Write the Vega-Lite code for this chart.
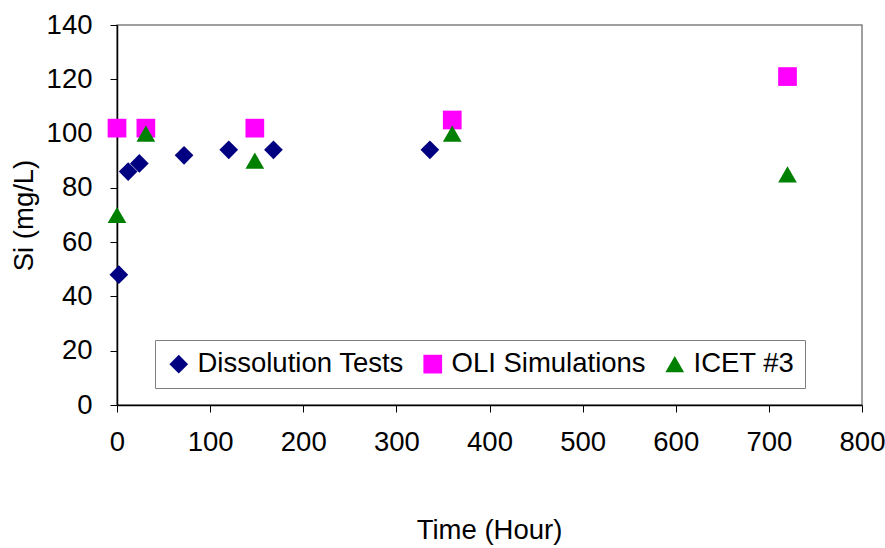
{
  "$schema": "https://vega.github.io/schema/vega-lite/v6.json",
  "width": 745,
  "height": 380,
  "autosize": {"type": "none"},
  "padding": {"left": 117, "top": 25, "right": 23, "bottom": 143},
  "background": "white",
  "config": {
    "font": "Liberation Sans",
    "view": {"stroke": "#808080", "strokeWidth": 1.5},
    "axis": {
      "grid": false,
      "domainColor": "black",
      "domainWidth": 1.5,
      "tickColor": "black",
      "tickWidth": 1,
      "tickSize": 7,
      "labelFont": "Liberation Sans",
      "labelFontSize": 27.5,
      "labelColor": "black",
      "labelFlush": false,
      "labelOverlap": false,
      "labelBound": false,
      "titleFont": "Liberation Sans",
      "titleFontSize": 27.5,
      "titleFontWeight": "normal",
      "titleColor": "black"
    }
  },
  "data": {
    "values": [
      {"series": "Dissolution Tests", "hours": 2, "si": 48},
      {"series": "Dissolution Tests", "hours": 12, "si": 86},
      {"series": "Dissolution Tests", "hours": 24, "si": 89},
      {"series": "Dissolution Tests", "hours": 72, "si": 92},
      {"series": "Dissolution Tests", "hours": 120, "si": 94},
      {"series": "Dissolution Tests", "hours": 168, "si": 94},
      {"series": "Dissolution Tests", "hours": 336, "si": 94},
      {"series": "OLI Simulations", "hours": 0, "si": 102},
      {"series": "OLI Simulations", "hours": 31, "si": 102},
      {"series": "OLI Simulations", "hours": 148, "si": 102},
      {"series": "OLI Simulations", "hours": 360, "si": 105},
      {"series": "OLI Simulations", "hours": 720, "si": 121},
      {"series": "ICET #3", "hours": 0, "si": 70},
      {"series": "ICET #3", "hours": 31, "si": 100},
      {"series": "ICET #3", "hours": 148, "si": 90},
      {"series": "ICET #3", "hours": 360, "si": 100},
      {"series": "ICET #3", "hours": 720, "si": 85}
    ]
  },
  "mark": {"type": "point", "filled": true, "opacity": 1, "size": 350, "strokeWidth": 0},
  "encoding": {
    "x": {
      "field": "hours",
      "type": "quantitative",
      "scale": {"domain": [0, 800], "nice": false},
      "axis": {
        "values": [0, 100, 200, 300, 400, 500, 600, 700, 800],
        "labelPadding": 16,
        "title": "Time (Hour)",
        "titleBaseline": "alphabetic",
        "titleX": 372,
        "titleY": 133
      }
    },
    "y": {
      "field": "si",
      "type": "quantitative",
      "scale": {"domain": [0, 140], "nice": false},
      "axis": {
        "values": [0, 20, 40, 60, 80, 100, 120, 140],
        "labelPadding": 18,
        "title": "Si (mg/L)",
        "titleBaseline": "alphabetic",
        "titleX": -85,
        "titleY": 190
      }
    },
    "color": {
      "field": "series",
      "type": "nominal",
      "scale": {
        "domain": ["Dissolution Tests", "OLI Simulations", "ICET #3"],
        "range": ["#000080", "#FF00FF", "#008000"]
      },
      "legend": {
        "title": null,
        "orient": "none",
        "legendX": 38,
        "legendY": 315,
        "direction": "horizontal",
        "columns": 3,
        "padding": 10,
        "strokeColor": "#808080",
        "fillColor": "white",
        "labelFont": "Liberation Sans",
        "labelFontSize": 27.5,
        "labelColor": "black",
        "labelLimit": 400,
        "labelOffset": 5,
        "columnPadding": 15,
        "symbolSize": 350,
        "symbolStrokeWidth": 0,
        "symbolOpacity": 1
      }
    },
    "shape": {
      "field": "series",
      "type": "nominal",
      "scale": {
        "domain": ["Dissolution Tests", "OLI Simulations", "ICET #3"],
        "range": ["diamond", "square", "triangle-up"]
      }
    }
  }
}
